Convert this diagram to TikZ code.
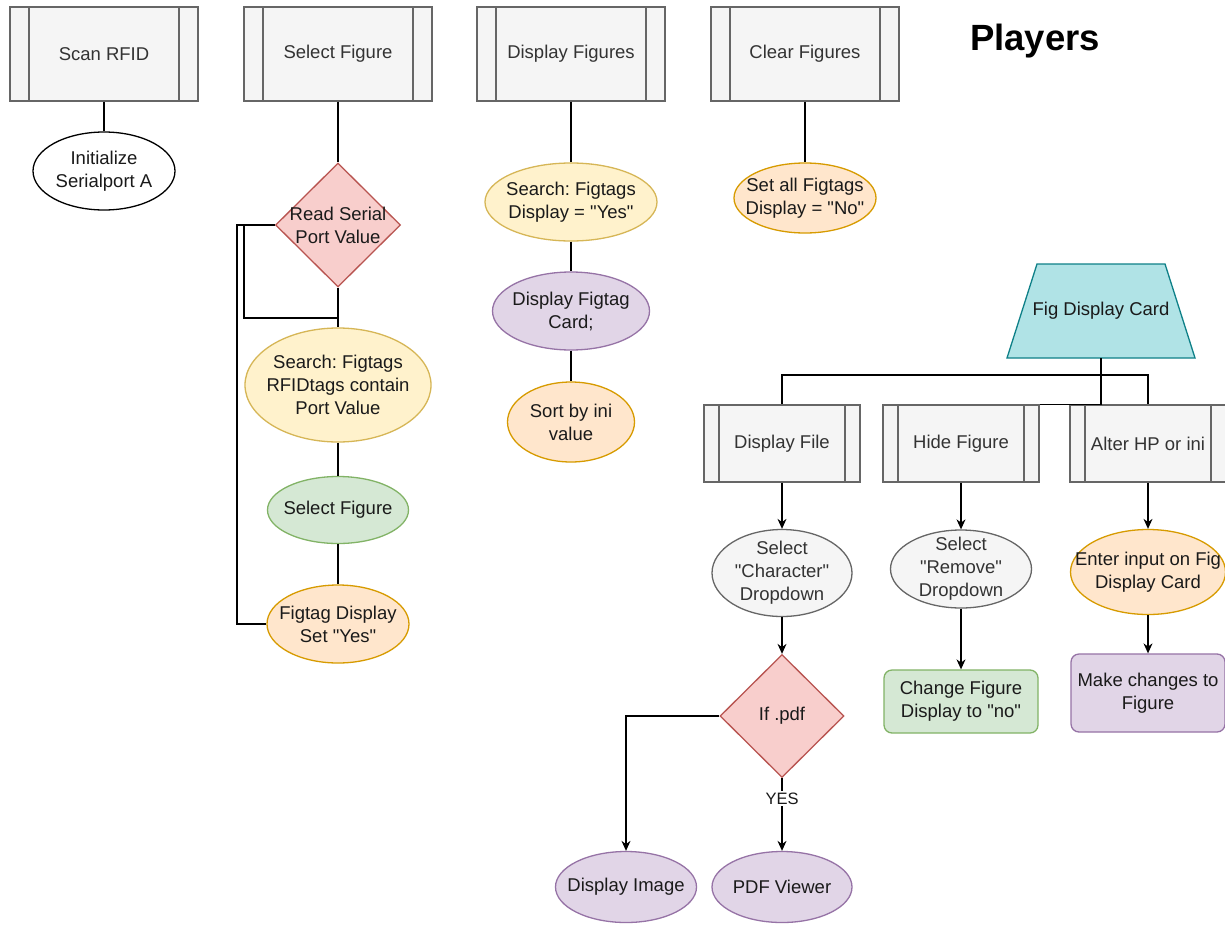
\documentclass[tikz,border=0pt]{standalone}
\usepackage{fontspec}
\setmainfont{Liberation Sans}[Ligatures=TeXOff]
\usetikzlibrary{shapes.geometric,arrows.meta}

\definecolor{grayfill}{HTML}{F5F5F5}
\definecolor{grayline}{HTML}{666666}
\definecolor{graytext}{HTML}{333333}
\definecolor{yelfill}{HTML}{FFF2CC}
\definecolor{yelline}{HTML}{D6B656}
\definecolor{orafill}{HTML}{FFE6CC}
\definecolor{oraline}{HTML}{D79B00}
\definecolor{grnfill}{HTML}{D5E8D4}
\definecolor{grnline}{HTML}{82B366}
\definecolor{purfill}{HTML}{E1D5E7}
\definecolor{purline}{HTML}{9673A6}
\definecolor{redfill}{HTML}{F8CECC}
\definecolor{redline}{HTML}{B85450}
\definecolor{tealfill}{HTML}{B0E3E6}
\definecolor{tealline}{HTML}{0E8088}
\definecolor{inktext}{HTML}{1A1A1A}

\begin{document}
\frenchspacing
\begin{tikzpicture}[x=1pt,y=-1pt,
  txt/.style={font=\fontsize{18.5}{23}\selectfont, align=center, inner sep=0pt},
  lbl/.style={txt, text=inktext},
  glbl/.style={txt, text=graytext},
  procbox/.style n args={3}{txt, rectangle, line width=1.3pt,
    fill=grayfill, draw=grayline, text=graytext,
    minimum width=#1pt, minimum height=#2pt,
    path picture={
      \draw[grayline, line width=1.3pt]
        ([xshift=#3pt]path picture bounding box.north west) --
        ([xshift=#3pt]path picture bounding box.south west);
      \draw[grayline, line width=1.3pt]
        ([xshift=-#3pt]path picture bounding box.north east) --
        ([xshift=-#3pt]path picture bounding box.south east);}},
  oval/.style n args={4}{ellipse, inner sep=0pt, line width=1.3pt,
    minimum width=#1pt, minimum height=#2pt, fill=#3, draw=#4},
  card/.style n args={4}{txt, rectangle, rounded corners=8pt, line width=1.3pt,
    minimum width=#1pt, minimum height=#2pt, fill=#3, draw=#4, text=inktext},
  decision/.style n args={2}{diamond, inner sep=0pt, line width=1.3pt,
    minimum width=#1pt, minimum height=#2pt, fill=redfill, draw=redline},
  link/.style={line width=1.3pt, draw=black},
  arr/.style={link, -{Stealth[length=10pt,width=9pt]}}
]
\useasboundingbox (0,0) rectangle (1225,926);
\fill[white] (0,0) rectangle (1225,926);
\clip (0,0) rectangle (1225,926);

% title
\node[font=\fontsize{36.5}{40}\selectfont\bfseries, anchor=base, inner sep=0pt] (title) at (1035,50) {Players};

% top row of processes
\node[procbox={188}{94}{19}] (scan)      at (104,54) {Scan RFID};
\node[procbox={188}{94}{19}] (selfig)    at (338,54) {Select Figure};
\node[procbox={188}{94}{19}] (dispfigs)  at (571,54) {Display Figures};
\node[procbox={188}{94}{19}] (clearfigs) at (805,54) {Clear Figures};

% scan column
\node[oval={142}{78}{white}{black}, label={[lbl]center:{Initialize\\Serialport A}}] (init) at (104,171) {};
\draw[link] (scan.south) -- (init.north);

% select figure column
\node[decision={125}{124}, label={[lbl]center:{Read Serial\\Port Value}}] (read) at (338,225) {};
\node[oval={186}{114}{yelfill}{yelline}, label={[lbl]center:{Search: Figtags\\RFIDtags contain\\Port Value}}] (search1) at (338,385) {};
\node[oval={141}{67}{grnfill}{grnline}, label={[lbl]center:{Select Figure}}] (selfig2) at (338,510) {};
\node[oval={142}{78}{orafill}{oraline}, label={[lbl]center:{Figtag Display\\Set "Yes"}}] (figtag) at (338,624) {};
\coordinate (loopA) at (244,318);
\coordinate (joinA) at (338,318);
\coordinate (loopB) at (237,624);
\draw[link] (selfig.south) -- (read.north);
\draw[link] (read.south) -- (search1.north);
\draw[link] (search1.south) -- (selfig2.north);
\draw[link] (selfig2.south) -- (figtag.north);
\draw[link] (read.west) -| (loopA) -- (joinA);
\draw[link] (read.west) -| (loopB) -- (figtag.west);

% display figures column
\node[oval={172}{78}{yelfill}{yelline}, label={[lbl]center:{Search: Figtags\\Display = "Yes"}}] (search2) at (571,202) {};
\node[oval={157}{78}{purfill}{purline}, label={[lbl]center:{Display Figtag\\Card;}}] (figcard) at (571,311) {};
\node[oval={127}{80}{orafill}{oraline}, label={[lbl]center:{Sort by ini\\value}}] (sortini) at (571,422) {};
\draw[link] (dispfigs.south) -- (search2.north);
\draw[link] (search2.south) -- (figcard.north);
\draw[link] (figcard.south) -- (sortini.north);

% clear figures column
\node[oval={142}{70}{orafill}{oraline}, label={[lbl]center:{Set all Figtags\\Display = "No"}}] (setall) at (805,198) {};
\draw[link] (clearfigs.south) -- (setall.north);

% fig display card (manual operation trapezoid)
\filldraw[fill=tealfill, draw=tealline, line width=1.3pt]
  (1007,358) -- (1037,264) -- (1165,264) -- (1195,358) -- cycle;
\node[lbl] (figdisp) at (1101,311) {Fig Display Card};
\coordinate (figdispS) at (1101,358);
\node[procbox={156}{77}{15}] (dispfile) at (782,443.5)  {Display File};
\node[procbox={156}{77}{15}] (hidefig)  at (961,443.5)  {Hide Figure};
\node[procbox={156}{77}{15}] (alter)    at (1148,443.5) {Alter HP or ini};
\coordinate (bus) at (1101,375);
\draw[link] (figdispS) -- (bus) -| (dispfile.north);
\draw[link] (bus) -| (alter.north);
\draw[link] (figdispS) |- (hidefig.north east);

% display file branch
\node[oval={140}{87}{grayfill}{grayline}, label={[glbl]center:{Select\\"Character"\\Dropdown}}] (selchar) at (782,573) {};
\node[decision={124}{123}, label={[lbl]center:{If .pdf}}] (ifpdf) at (782,716) {};
\node[oval={141}{71}{purfill}{purline}, label={[lbl]center:{Display Image}}] (dispimg) at (626,887) {};
\node[oval={140}{71}{purfill}{purline}, label={[lbl]center:{PDF Viewer}}] (pdfview) at (782,887) {};
\draw[arr] (dispfile.south) -- (selchar.north);
\draw[arr] (selchar.south) -- (ifpdf.north);
\draw[arr] (ifpdf.west) -| (dispimg.north);
\draw[arr] (ifpdf.south) -- node[pos=0.28, fill=white, inner sep=1.5pt,
  font=\fontsize{16.5}{20}\selectfont, text=inktext] (yes) {YES} (pdfview.north);

% hide figure branch
\node[oval={141}{78}{grayfill}{grayline}, label={[glbl]center:{Select\\"Remove"\\Dropdown}}] (selrem) at (961,569) {};
\node[card={154}{63}{grnfill}{grnline}] (change) at (961,701.5) {Change Figure\\Display to "no"};
\draw[arr] (hidefig.south) -- (selrem.north);
\draw[arr] (selrem.south) -- (change.north);

% alter branch
\node[oval={155}{85}{orafill}{oraline}, label={[lbl]center:{Enter input on Fig\\Display Card}}] (enter) at (1148,572) {};
\node[card={154}{78}{purfill}{purline}] (make) at (1148,693) {Make changes to\\Figure};
\draw[arr] (alter.south) -- (enter.north);
\draw[arr] (enter.south) -- (make.north);
\end{tikzpicture}
\end{document}
